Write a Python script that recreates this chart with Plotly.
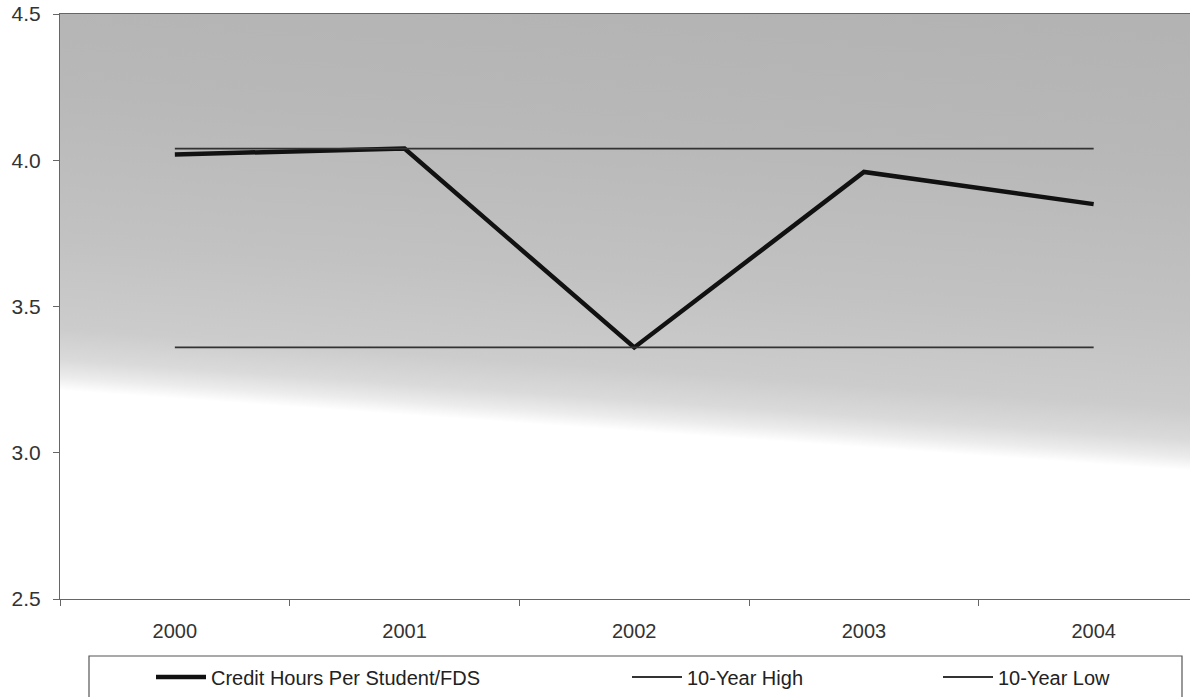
import base64
import plotly.graph_objects as go

years = ["2000", "2001", "2002", "2003", "2004"]
credit_hours = [4.02, 4.04, 3.36, 3.96, 3.85]
ten_year_high = [4.04, 4.04, 4.04, 4.04, 4.04]
ten_year_low = [3.36, 3.36, 3.36, 3.36, 3.36]
y_ticks = [2.5, 3.0, 3.5, 4.0, 4.5]

W, H = 1190, 697
ML, MR, MT, MB = 60, 0, 14, 98
PW = W - ML - MR
PH = H - MT - MB

def px_x(p):
    return (p - ML) / PW

def px_y(p):
    return (H - MB - p) / PH

FONT = "Liberation Sans, Arial, sans-serif"

# background gradient (scanned gray fill fading to white)
svg = (
    '<svg xmlns="http://www.w3.org/2000/svg" width="1000" height="1000" '
    'viewBox="0 0 1 1" preserveAspectRatio="none">'
    '<defs><linearGradient id="g" x1="0.602" y1="-0.03" x2="0.5" y2="0.712" '
    'gradientUnits="objectBoundingBox">'
    '<stop offset="0" stop-color="#b3b3b3"/>'
    '<stop offset="0.32" stop-color="#b8b8b8"/>'
    '<stop offset="0.66" stop-color="#c2c2c2"/>'
    '<stop offset="0.86" stop-color="#cccccc"/>'
    '<stop offset="0.93" stop-color="#dadada"/>'
    '<stop offset="0.97" stop-color="#ececec"/>'
    '<stop offset="1" stop-color="#ffffff"/>'
    '</linearGradient></defs>'
    '<rect x="0" y="0" width="1" height="1" fill="url(#g)"/></svg>'
)
src = "data:image/svg+xml;base64," + base64.b64encode(svg.encode()).decode()

fig = go.Figure()
fig.add_trace(go.Scatter(
    x=years, y=credit_hours, mode="lines", name="Credit Hours Per Student/FDS",
    line=dict(color="#111111", width=4.5), legend="legend",
))
fig.add_trace(go.Scatter(
    x=years, y=ten_year_high, mode="lines", name="10-Year High",
    line=dict(color="#333333", width=1.8), legend="legend2",
))
fig.add_trace(go.Scatter(
    x=years, y=ten_year_low, mode="lines", name="10-Year Low",
    line=dict(color="#333333", width=1.8), legend="legend3",
))

cat_w = 229.7
x_hi = -0.5 + PW / cat_w

legend_common = dict(
    orientation="h", yanchor="middle", xanchor="left",
    bgcolor="rgba(0,0,0,0)", borderwidth=0,
    font=dict(family=FONT, size=20, color="#222222"),
    itemwidth=50, tracegroupgap=0, itemclick=False,
)

fig.update_layout(
    width=W, height=H,
    margin=dict(l=ML, r=MR, t=MT, b=MB, pad=0, autoexpand=False),
    paper_bgcolor="white", plot_bgcolor="rgba(0,0,0,0)",
    font=dict(family=FONT, size=20, color="#333333"),
    showlegend=True,
    legend=dict(x=px_x(151), y=px_y(677), **legend_common),
    legend2=dict(x=px_x(627), y=px_y(677), **legend_common),
    legend3=dict(x=px_x(938), y=px_y(677), **legend_common),
    xaxis=dict(
        type="category", range=[-0.5, x_hi],
        showgrid=False, zeroline=False,
        showline=True, linecolor="#666666", linewidth=1.2, mirror=True,
        ticks="outside", tickson="boundaries", ticklen=6, tickcolor="#666666",
        tickfont=dict(family=FONT, size=20, color="#333333"),
        ticklabelstandoff=14,
    ),
    yaxis=dict(
        range=[2.5, 4.5], tickvals=y_ticks, tickformat=".1f",
        showgrid=False, zeroline=False,
        showline=True, linecolor="#666666", linewidth=1.2,
        ticks="outside", ticklen=6, tickcolor="#666666",
        tickfont=dict(family=FONT, size=21, color="#333333"),
        ticklabelstandoff=8,
    ),
    images=[dict(
        source=src, xref="x domain", yref="y domain", x=0, y=1,
        sizex=1, sizey=1, xanchor="left", yanchor="top",
        sizing="stretch", layer="below",
    )],
    shapes=[dict(
        type="rect", xref="paper", yref="paper",
        x0=px_x(89), x1=px_x(1182), y0=px_y(705), y1=px_y(656),
        line=dict(color="#555555", width=1.2), fillcolor="rgba(0,0,0,0)",
        layer="above",
    )],
)

fig.write_html(
    "out.html",
    config={"displayModeBar": False},
    post_script="document.body.style.margin='0';document.body.style.overflow='hidden';",
)
